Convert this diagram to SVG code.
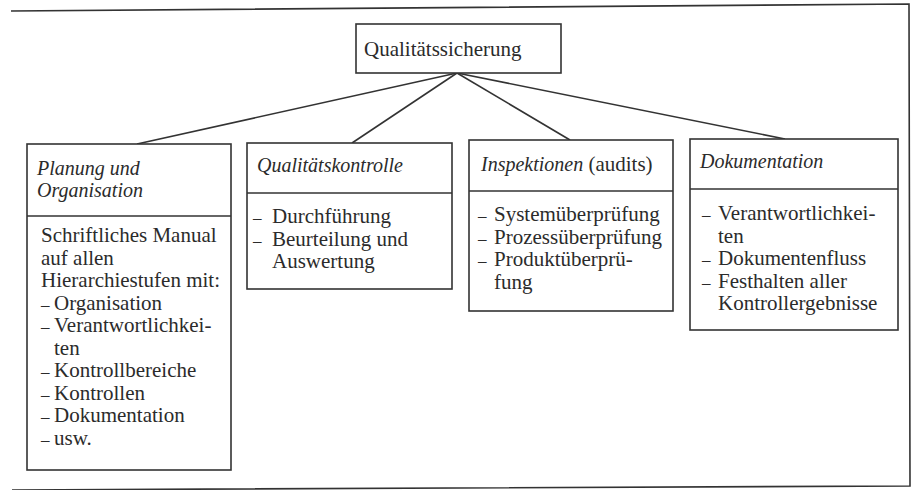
<svg xmlns="http://www.w3.org/2000/svg" width="912" height="490" viewBox="0 0 912 490">
<style>
.box{fill:#fff;stroke:#333;stroke-width:1.6}
.ln{stroke:#333;stroke-width:1.6;fill:none}
text{font-family:"Liberation Serif","Times New Roman",serif;font-size:21px;fill:#2b2b2b}
.h{font-style:italic;font-size:20px}
.d{font-size:17px}
</style>
<rect width="912" height="490" fill="#fff"/>
<path class="ln" d="M11,11 L909,4 L910,486 L12,490"/>
<g id="connectors">
<line class="ln" x1="457" y1="73" x2="137" y2="144"/>
<line class="ln" x1="457" y1="73" x2="352" y2="143"/>
<line class="ln" x1="457" y1="73" x2="570" y2="140"/>
<line class="ln" x1="457" y1="73" x2="785" y2="139"/>
</g>
<g id="root">
<rect class="box" x="356" y="24" width="205" height="49"/>
<text x="364" y="56">Qualitätssicherung</text>
</g>
<g id="planung">
<rect class="box" x="27" y="144" width="204" height="326"/>
<line class="ln" x1="27" y1="216" x2="231" y2="216"/>
<text class="h" x="37" y="175">Planung und</text>
<text class="h" x="37" y="197">Organisation</text>
<text x="41" y="242">Schriftliches Manual</text>
<text x="41" y="264.5">auf allen</text>
<text x="41" y="287">Hierarchiestufen mit:</text>
<text y="309.5"><tspan class="d" x="41">–</tspan><tspan x="54">Organisation</tspan></text>
<text y="332"><tspan class="d" x="41">–</tspan><tspan x="54">Verantwortlichkei-</tspan></text>
<text x="54" y="354.5">ten</text>
<text y="377"><tspan class="d" x="41">–</tspan><tspan x="54">Kontrollbereiche</tspan></text>
<text y="399.5"><tspan class="d" x="41">–</tspan><tspan x="54">Kontrollen</tspan></text>
<text y="422"><tspan class="d" x="41">–</tspan><tspan x="54">Dokumentation</tspan></text>
<text y="444.5"><tspan class="d" x="41">–</tspan><tspan x="54">usw.</tspan></text>
</g>
<g id="kontrolle">
<rect class="box" x="247" y="143" width="205" height="146"/>
<line class="ln" x1="247" y1="193" x2="452" y2="193"/>
<text class="h" x="257" y="172">Qualitätskontrolle</text>
<text y="223"><tspan class="d" x="253">–</tspan><tspan x="272">Durchführung</tspan></text>
<text y="245.5"><tspan class="d" x="253">–</tspan><tspan x="272">Beurteilung und</tspan></text>
<text x="272" y="268">Auswertung</text>
</g>
<g id="inspektionen">
<rect class="box" x="469" y="140" width="204" height="171"/>
<line class="ln" x1="469" y1="191" x2="673" y2="191"/>
<text x="481" y="171"><tspan class="h">Inspektionen</tspan> (audits)</text>
<text y="221"><tspan class="d" x="478">–</tspan><tspan x="494">Systemüberprüfung</tspan></text>
<text y="243.5"><tspan class="d" x="478">–</tspan><tspan x="494">Prozessüberprüfung</tspan></text>
<text y="266"><tspan class="d" x="478">–</tspan><tspan x="494">Produktüberprü-</tspan></text>
<text x="494" y="288.5">fung</text>
</g>
<g id="dokumentation">
<rect class="box" x="690" y="139" width="208" height="191"/>
<line class="ln" x1="690" y1="189" x2="898" y2="189"/>
<text class="h" x="700" y="168">Dokumentation</text>
<text y="220"><tspan class="d" x="702">–</tspan><tspan x="718">Verantwortlichkei-</tspan></text>
<text x="718" y="242.5">ten</text>
<text y="265"><tspan class="d" x="702">–</tspan><tspan x="718">Dokumentenfluss</tspan></text>
<text y="287.5"><tspan class="d" x="702">–</tspan><tspan x="718">Festhalten aller</tspan></text>
<text x="718" y="310">Kontrollergebnisse</text>
</g>
</svg>
